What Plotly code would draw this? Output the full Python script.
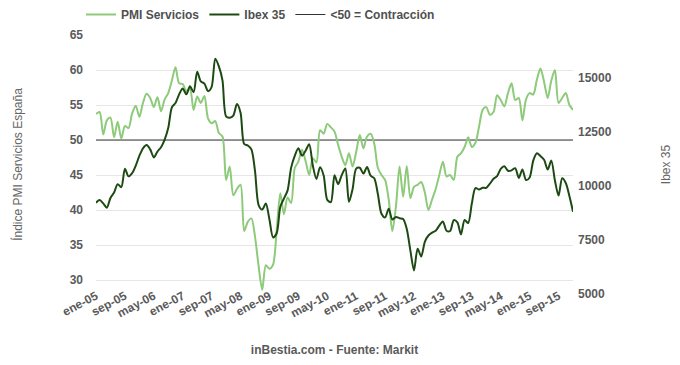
import plotly.graph_objects as go

# Month labels (Spanish), Jan 2005 .. Jan 2016
MONTH_ABBR = ["ene", "feb", "mar", "abr", "may", "jun", "jul", "ago", "sep", "oct", "nov", "dic"]
months = [f"{m}-{y:02d}" for y in range(5, 16) for m in MONTH_ABBR] + ["ene-16"]

pmi_servicios = [
    53.7, 54.0, 50.8, 52.8, 53.2, 50.4, 52.6, 50.2, 52.0, 51.7, 53.8, 54.9,   # 2005
    53.3, 55.3, 56.6, 56.0, 54.7, 56.1, 54.1, 55.8, 56.7, 58.5, 60.4, 58.1,   # 2006
    58.0, 57.0, 57.3, 54.3, 56.2, 55.3, 56.3, 53.1, 52.4, 52.7, 51.0, 50.5,   # 2007
    44.3, 46.2, 42.1, 43.0, 43.6, 37.0, 38.3, 38.8, 36.2, 32.0, 28.6, 32.1,   # 2008
    31.6, 32.2, 37.1, 42.4, 39.4, 41.8, 41.0, 46.0, 46.9, 48.6, 47.0, 45.0,   # 2009
    47.4, 46.8, 51.4, 50.9, 52.3, 51.8, 51.2, 49.3, 47.6, 46.4, 48.1, 46.2,   # 2010
    48.3, 50.7, 48.8, 50.5, 50.9, 49.5, 46.0, 45.0, 44.3, 41.5, 37.0, 40.5,   # 2011
    46.2, 41.9, 46.3, 41.7, 43.3, 43.6, 44.0, 42.5, 40.0, 41.5, 43.0, 45.0,   # 2012
    46.9, 44.8, 45.0, 44.3, 47.6, 48.1, 49.0, 50.4, 49.0, 49.6, 51.9, 54.3,   # 2013
    54.7, 53.6, 54.0, 56.4, 55.7, 54.8, 56.7, 58.1, 55.7, 56.0, 52.8, 55.8,   # 2014
    56.7, 56.5, 58.6, 60.2, 58.3, 56.0, 58.5, 60.0, 55.3, 56.0, 56.7, 55.0,   # 2015
    54.3,                                                                     # 2016
]

ibex35 = [
    9230, 9350, 9200, 9000, 9450, 9700, 10090, 9950, 10800, 10450, 10600, 10950,     # 2005
    11400, 11750, 11900, 11700, 11330, 11600, 11800, 12150, 12700, 13650, 13850, 14250,  # 2006
    14520, 14250, 14620, 14350, 15300, 14850, 14750, 14400, 14600, 15900, 15550, 14900,  # 2007
    13230, 13170, 13270, 13800, 13400, 11950, 11880, 11700, 10700, 9120, 8910, 9195,   # 2008
    8450, 7620, 7815, 9040, 9420, 9790, 10855, 11400, 11750, 11410, 11640, 11940,     # 2009
    10950, 10330, 10870, 10490, 9360, 9260, 10500, 10090, 10510, 10810, 9270, 9860,   # 2010
    10810, 10850, 10580, 10880, 10480, 10360, 9630, 8720, 8550, 8950, 8450, 8570,     # 2011
    8510, 8470, 8010, 7010, 6090, 7100, 6740, 7420, 7710, 7840, 7930, 8170,           # 2012
    8360, 7930, 7920, 8420, 8320, 7760, 8430, 8290, 9190, 9910, 9840, 9920,           # 2013
    9920, 10110, 10340, 10460, 10800, 10920, 10710, 10730, 10830, 10380, 10770, 10280,  # 2014
    10400, 11180, 11520, 11390, 11220, 10770, 11180, 10260, 9560, 10360, 10140, 9540,  # 2015
    8815,                                                                              # 2016
]

CONTRACTION_LEVEL = 50
pmi_ticks = [30, 35, 40, 45, 50, 55, 60, 65]
ibex_ticks = [5000, 7500, 10000, 12500, 15000]
x_ticks = months[::8]

FONT = "Liberation Sans, Arial, sans-serif"
TXT = "#5a5a5a"

fig = go.Figure()
fig.add_trace(go.Scatter(
    x=months, y=[CONTRACTION_LEVEL] * len(months), name="<50 = Contracción",
    mode="lines", line=dict(color="#333333", width=1), yaxis="y", legendrank=3,
    hoverinfo="skip"))
fig.add_trace(go.Scatter(
    x=months, y=pmi_servicios, name="PMI Servicios", mode="lines",
    line=dict(color="#8dca7a", width=2, shape="spline", smoothing=0.8),
    yaxis="y", legendrank=1))
fig.add_trace(go.Scatter(
    x=months, y=ibex35, name="Ibex 35", mode="lines",
    line=dict(color="#1d4a12", width=2, shape="spline", smoothing=0.8),
    yaxis="y2", legendrank=2))

tickfont = dict(family=FONT, size=12, color=TXT, weight="bold")

fig.update_layout(
    width=680, height=365,
    margin=dict(l=96, r=107, t=35, b=71, autoexpand=False),
    paper_bgcolor="white", plot_bgcolor="white",
    font=dict(family=FONT, color=TXT),
    showlegend=True,
    legend=dict(
        orientation="h", xref="container", yref="container",
        x=81 / 680, xanchor="left", y=1.0, yanchor="top",
        font=dict(family=FONT, size=12, color="#505050", weight="bold"),
        bgcolor="rgba(0,0,0,0)", itemwidth=30, tracegroupgap=0,
    ),
    xaxis=dict(
        type="category", range=[0, len(months) - 1],
        tickmode="array", tickvals=x_ticks, ticktext=x_ticks,
        tickangle=-28, showgrid=False, zeroline=False, showline=False, ticks="",
        tickfont=tickfont, ticklabelstandoff=-8,
        title=dict(text="inBestia.com - Fuente: Markit",
                   font=dict(family=FONT, size=12, color=TXT, weight="bold"),
                   standoff=26),
    ),
    yaxis=dict(
        range=[28, 65], tickmode="array", tickvals=pmi_ticks,
        showgrid=True, gridcolor="#e6e6e6", gridwidth=1,
        zeroline=False, showline=False, ticks="",
        tickfont=tickfont, ticklabelstandoff=12,
        title=dict(text="Índice PMI Servicios España",
                   font=dict(family=FONT, size=12, color="#666666"),
                   standoff=44),
    ),
    yaxis2=dict(
        overlaying="y", side="right", range=[5000, 17000],
        tickmode="array", tickvals=ibex_ticks, tickformat="d",
        showgrid=False, zeroline=False, showline=False, ticks="",
        tickfont=tickfont, ticklabelstandoff=4,
        title=dict(text="Ibex 35",
                   font=dict(family=FONT, size=12, color="#666666"),
                   standoff=50),
    ),
)

# remove the default page margin so the 680x365 figure fills the window exactly
fig.write_html("out.html", config={"displayModeBar": False},
               post_script="document.body.style.margin='0';")
